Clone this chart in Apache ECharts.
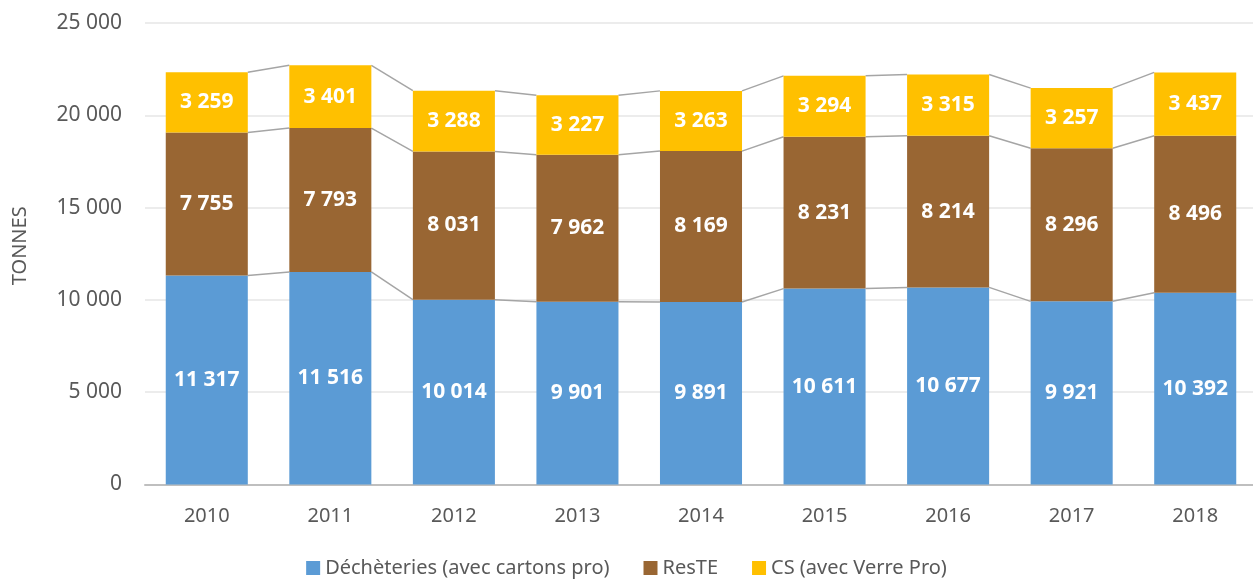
<!DOCTYPE html>
<html>
<head>
<meta charset="utf-8">
<script src="https://cdn.jsdelivr.net/npm/echarts@6/dist/echarts.min.js"></script>
<style>
  html, body { margin: 0; padding: 0; background: #fff; }
  #chart { width: 1253px; height: 580px; }
</style>
</head>
<body>
<div id="chart"></div>
<script>
var years = ['2010', '2011', '2012', '2013', '2014', '2015', '2016', '2017', '2018'];
var decheteries = [11317, 11516, 10014, 9901, 9891, 10611, 10677, 9921, 10392];
var reste = [7755, 7793, 8031, 7962, 8169, 8231, 8214, 8296, 8496];
var cs = [3259, 3401, 3288, 3227, 3263, 3294, 3315, 3257, 3437];
var seriesNames = ['Déchèteries (avec cartons pro)', 'ResTE', 'CS (avec Verre Pro)'];
var yTicks = [0, 5000, 10000, 15000, 20000, 25000];

var font = 'Noto Sans';
var barRatio = 0.664;

function fmt(v) {
    return String(v).replace(/\B(?=(\d{3})+(?!\d))/g, ' ');
}

// cumulative heights for the series lines between bars
var cum1 = decheteries.slice();
var cum2 = decheteries.map(function (v, i) { return v + reste[i]; });
var cum3 = cum2.map(function (v, i) { return v + cs[i]; });
var levels = [cum1, cum2, cum3];

var linkData = years.slice(0, years.length - 1).map(function (y, i) { return [i]; });

var chart = echarts.init(document.getElementById('chart'), null, { renderer: 'canvas' });

function barLabel() {
    return {
        show: true,
        position: 'inside',
        color: '#fff',
        fontFamily: font,
        fontWeight: 'bold',
        fontSize: 21,
        formatter: function (p) { return fmt(p.value); }
    };
}

var option = {
    animation: false,
    grid: { left: 145, right: -4, top: 23, bottom: 95.5, outerBoundsMode: 'none' },
    legend: {
        bottom: -3,
        left: 'center',
        itemWidth: 14,
        itemHeight: 14,
        itemGap: 34,
        icon: 'rect',
        textStyle: { color: '#595959', fontFamily: font, fontSize: 20 },
        data: seriesNames
    },
    xAxis: {
        type: 'category',
        data: years,
        axisLine: { lineStyle: { color: '#bfbfbf', width: 2 } },
        axisTick: { show: false },
        axisLabel: { color: '#595959', fontFamily: font, fontSize: 20, margin: 22 }
    },
    yAxis: {
        type: 'value',
        min: yTicks[0],
        max: yTicks[yTicks.length - 1],
        interval: 5000,
        name: 'TONNES',
        nameLocation: 'middle',
        nameRotate: 90,
        nameGap: 115,
        nameTextStyle: { color: '#595959', fontFamily: font, fontSize: 20, padding: [0, 0, 0, 16] },
        axisLine: { show: false },
        axisTick: { show: false },
        splitLine: { lineStyle: { color: '#e6e6e6', width: 1.5 } },
        axisLabel: {
            color: '#595959', fontFamily: font, fontSize: 21, margin: 23,
            formatter: function (v) { return fmt(v); }
        }
    },
    series: [
        {
            name: seriesNames[0], type: 'bar', stack: 'total',
            barCategoryGap: '33.6%',
            itemStyle: { color: '#5b9bd5' },
            label: barLabel(),
            data: decheteries
        },
        {
            name: seriesNames[1], type: 'bar', stack: 'total',
            itemStyle: { color: '#996633' },
            label: barLabel(),
            data: reste
        },
        {
            name: seriesNames[2], type: 'bar', stack: 'total',
            itemStyle: { color: '#ffc000' },
            label: barLabel(),
            data: cs
        },
        {
            name: 'lines', type: 'custom',
            silent: true,
            z: 1,
            renderItem: function (params, api) {
                var i = api.value(0);
                var half = api.size([1, 0])[0] * barRatio / 2;
                var children = levels.map(function (lvl) {
                    var a = api.coord([i, lvl[i]]);
                    var b = api.coord([i + 1, lvl[i + 1]]);
                    return {
                        type: 'line',
                        shape: { x1: a[0] + half, y1: a[1], x2: b[0] - half, y2: b[1] },
                        style: { stroke: '#a5a5a5', lineWidth: 1.5 }
                    };
                });
                return { type: 'group', children: children };
            },
            data: linkData
        }
    ]
};

chart.setOption(option);
</script>
</body>
</html>
